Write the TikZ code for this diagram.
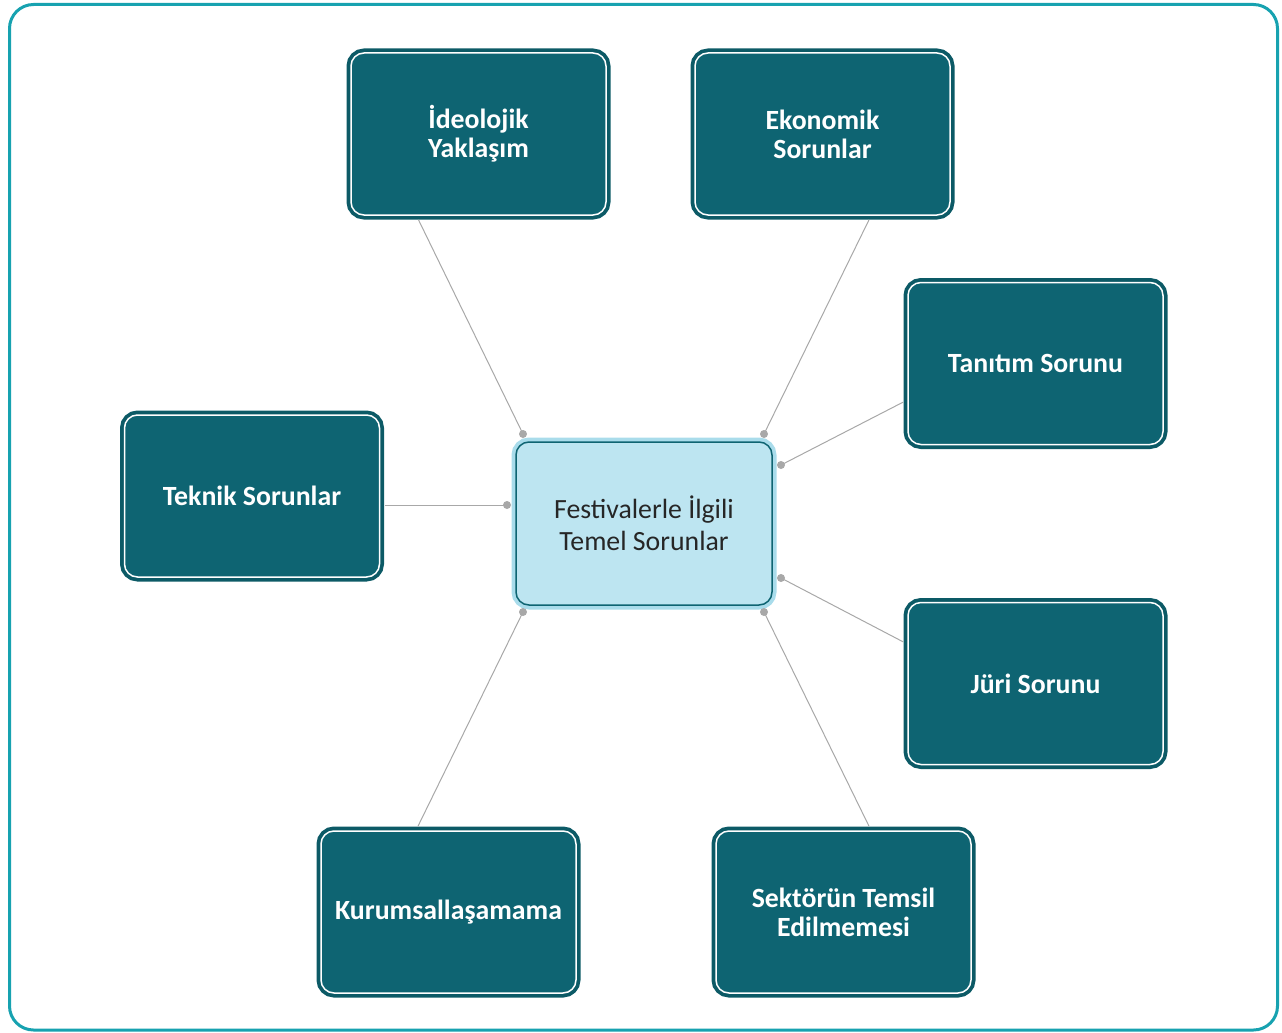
\documentclass[tikz,border=0pt]{standalone}
\usepackage{fontspec}
\setmainfont{Carlito}
\usetikzlibrary{calc}
\definecolor{frame}{HTML}{17A2B0}
\definecolor{teal}{HTML}{0E6472}
\definecolor{tealedge}{HTML}{0C5A66}
\definecolor{pale}{HTML}{BDE5F1}
\definecolor{paleedge}{HTML}{A9DCEB}
\definecolor{linkc}{HTML}{A8A8A8}
\definecolor{txt}{HTML}{262626}

\begin{document}
\begin{tikzpicture}[x=1pt, y=-1pt,
  b/.style={fill=teal, draw=white, line width=1.5pt, rounded corners=13pt,
    preaction={draw=tealedge, line width=9pt},
    minimum width=255pt, minimum height=162pt, align=center, text=white,
    font=\fontsize{27.8}{29}\selectfont\bfseries},
  m/.style={fill=pale, draw=teal, line width=1.5pt, rounded corners=13pt,
    preaction={draw=paleedge, line width=9pt},
    minimum width=256pt, minimum height=163pt, align=center, text=txt,
    font=\fontsize{27.8}{32}\selectfont},
  l/.style={draw=linkc, line width=1pt, shorten <=4.5pt},
  dot/.style={fill=linkc}]
\useasboundingbox (0,0) rectangle (1282,1033);
\draw[frame, line width=3pt, rounded corners=24pt] (9.5,4.5) rectangle (1277.5,1030);

\node[m] (c) at (644,523.5) {Festivalerle İlgili\\Temel Sorunlar};
\node[b] (ideo) at (478.5,134) {İdeolojik\\Yaklaşım};
\node[b] (ekon) at (822.5,134) {Ekonomik\\Sorunlar};
\node[b] (tani) at (1035.5,363.5) {Tanıtım Sorunu};
\node[b] (tekn) at (252,496) {Teknik Sorunlar};
\node[b] (juri) at (1035.5,683.5) {Jüri Sorunu};
\node[b] (kuru) at (448.5,912) {Kurumsallaşamama};
\node[b] (sekt) at (843.5,912) {Sektörün Temsil\\Edilmemesi};

% end points beside the middle box
\coordinate (d1) at (523,434);
\coordinate (d2) at (764,434);
\coordinate (d3) at (781,465);
\coordinate (d4) at (507,505);
\coordinate (d5) at (781,578);
\coordinate (d6) at (523,612);
\coordinate (d7) at (764,612);

\draw[l] ($(ideo.south)+(-62,0)$) -- (d1);
\draw[l] ($(ekon.south)+(48.5,0)$) -- (d2);
\draw[l] ($(tani.west)+(0,36.5)$) -- (d3);
\draw[l] ($(tekn.east)+(0,9)$) -- (d4);
\draw[l] ($(juri.west)+(0,-39.5)$) -- (d5);
\draw[l] ($(kuru.north)+(-32.5,0)$) -- (d6);
\draw[l] ($(sekt.north)+(27.5,0)$) -- (d7);
\foreach \d in {d1,d2,d3,d4,d5,d6,d7} \fill[dot] (\d) circle (4);
\end{tikzpicture}
\end{document}
